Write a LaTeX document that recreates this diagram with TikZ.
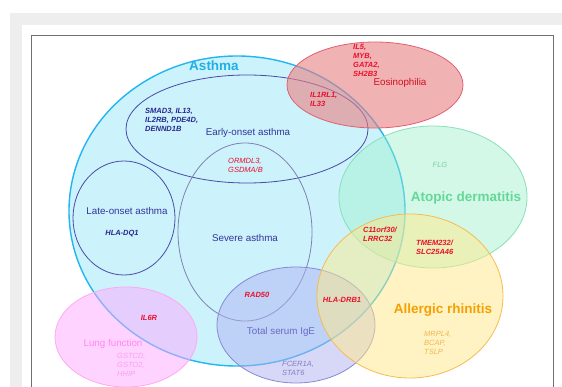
\documentclass[tikz,border=0pt]{standalone}
\usepackage{fontspec}
\setmainfont{Liberation Sans}
\usetikzlibrary{shapes.geometric}

\definecolor{FrameGrey}{rgb}{0.933,0.933,0.933}
\definecolor{FrameLine}{rgb}{0.439,0.439,0.439}
\definecolor{AsthmaColor}{rgb}{0.800,0.949,0.988}
\definecolor{AsthmaLine}{rgb}{0.125,0.714,0.941}
\definecolor{OnsetLine}{rgb}{0.290,0.290,0.659}
\definecolor{SevereLine}{rgb}{0.502,0.502,0.690}
\definecolor{EosinColor}{rgb}{0.914,0.498,0.510}
\definecolor{EosinLine}{rgb}{0.878,0.376,0.439}
\definecolor{AtopicColor}{rgb}{0.627,0.941,0.800}
\definecolor{AtopicLine}{rgb}{0.533,0.878,0.722}
\definecolor{RhinitisColor}{rgb}{1.0,0.914,0.537}
\definecolor{RhinitisLine}{rgb}{0.965,0.737,0.314}
\definecolor{IgEColor}{rgb}{0.694,0.694,0.945}
\definecolor{IgELine}{rgb}{0.533,0.533,0.847}
\definecolor{LungColor}{rgb}{1.0,0.663,1.0}
\definecolor{LungLine}{rgb}{1.0,0.659,0.941}

\definecolor{GeneRed}{rgb}{0.918,0.063,0.165}
\definecolor{GeneBlue}{rgb}{0.157,0.157,0.565}
\definecolor{OnsetText}{rgb}{0.204,0.204,0.604}
\definecolor{AsthmaText}{rgb}{0.125,0.690,0.910}
\definecolor{EosinText}{rgb}{0.816,0.063,0.125}
\definecolor{AtopicText}{rgb}{0.392,0.847,0.596}
\definecolor{AtopicGene}{rgb}{0.471,0.816,0.627}
\definecolor{RhinitisText}{rgb}{0.961,0.627,0.0}
\definecolor{RhinitisGene}{rgb}{0.941,0.722,0.314}
\definecolor{IgEText}{rgb}{0.416,0.416,0.784}
\definecolor{IgEGene}{rgb}{0.502,0.502,0.753}
\definecolor{LungText}{rgb}{1.0,0.533,0.941}
\definecolor{LungGene}{rgb}{0.973,0.627,0.941}

\tikzstyle{set-base}=[ellipse,
                      inner sep=0pt,
                      line width=0.8pt,
                     ]
\tikzstyle{set-fill}=[set-base, fill opacity=0.5]
\tikzstyle{set-line}=[set-base, draw=OnsetLine]
\tikzstyle{gene}=[inner sep=0pt, align=left, anchor=north west,
                  font=\fontsize{7.5}{9.2}\selectfont\bfseries\itshape]
\tikzstyle{gene-plain}=[gene, font=\fontsize{7.5}{9.2}\selectfont\itshape]
\tikzstyle{set-label}=[inner sep=0pt, font=\fontsize{9.8}{11}\selectfont]
\tikzstyle{title-label}=[inner sep=0pt, font=\fontsize{13.5}{15}\selectfont\bfseries]

\begin{document}
\begin{tikzpicture}[x=1pt, y=-1pt]
\useasboundingbox (0,0) rectangle (562,387);
% page frame
\fill[FrameGrey] (10,13) rectangle (562,387);
\fill[white] (22,25) rectangle (562,387);
\draw[FrameLine, line width=0.9pt] (31,387) -- (31,35) -- (553,35) -- (553,387);

% sets
\node at (237,211) (asthma)   [set-base, draw=AsthmaLine, fill=AsthmaColor, line width=1.4pt, minimum width=336pt, minimum height=310pt] {};
\node at (247,129) (early)    [set-line, minimum width=242pt, minimum height=108pt] {};
\node at (124,218) (late)     [set-line, minimum width=102pt, minimum height=114pt] {};
\node at (245,232) (severe)   [set-base, draw=SevereLine, minimum width=134pt, minimum height=178pt] {};
\node at (296,325) (ige)      [set-fill, draw=IgELine, fill=IgEColor, minimum width=158pt, minimum height=116pt] {};
\node at (126,337) (lung)     [set-fill, draw=LungLine, fill=LungColor, minimum width=142pt, minimum height=100pt] {};
\node at (375,85)  (eosin)    [set-fill, draw=EosinLine, fill=EosinColor, fill opacity=0.6, minimum width=176pt, minimum height=86pt] {};
\node at (433,197) (atopic)   [set-fill, draw=AtopicLine, fill=AtopicColor, fill opacity=0.45, minimum width=188pt, minimum height=142pt] {};
\node at (410,296) (rhinitis) [set-fill, draw=RhinitisLine, fill=RhinitisColor, minimum width=186pt, minimum height=164pt] {};

% set names
\node at (214,66)  (asthma_label)   [title-label, text=AsthmaText]   {Asthma};
\node at (400,83)  (eosin_label)    [set-label, text=EosinText]      {Eosinophilia};
\node at (248,133) (early_label)    [set-label, text=OnsetText]      {Early-onset asthma};
\node at (127,211) (late_label)     [set-label, text=OnsetText]      {Late-onset asthma};
\node at (245,238) (severe_label)   [set-label, text=OnsetText]      {Severe asthma};
\node at (466,198) (atopic_label)   [title-label, text=AtopicText]   {Atopic dermatitis};
\node at (443,310) (rhinitis_label) [title-label, text=RhinitisText] {Allergic rhinitis};
\node at (281,332) (ige_label)      [set-label, text=IgEText]        {Total serum IgE};
\node at (113,344) (lung_label)     [set-label, text=LungText]       {Lung function};

% genes
\node at (353,44)  (eosin_genes)    [gene, text=GeneRed]  {IL5,\\MYB,\\GATA2,\\SH2B3};
\node at (310,92)  (il1rl1_genes)   [gene, text=GeneRed]  {IL1RL1,\\IL33};
\node at (145,108) (early_genes)    [gene, text=GeneBlue] {SMAD3, IL13,\\IL2RB, PDE4D,\\DENND1B};
\node at (228,158) (ormdl_genes)    [gene-plain, text=GeneRed] {ORMDL3,\\GSDMA/B};
\node at (122,234) (late_genes)     [gene, anchor=center, text=GeneBlue] {HLA-DQ1};
\node at (440,165) (atopic_genes)   [gene-plain, anchor=center, text=AtopicGene] {FLG};
\node at (363,227) (c11orf30_genes) [gene, text=GeneRed]  {C11orf30/\\LRRC32};
\node at (416,240) (tmem_genes)     [gene, text=GeneRed]  {TMEM232/\\SLC25A46};
\node at (342,300) (hla_drb1_genes) [gene, anchor=center, text=GeneRed] {HLA-DRB1};
\node at (257,295) (rad50_genes)    [gene, anchor=center, text=GeneRed] {RAD50};
\node at (149,318) (il6r_genes)     [gene, anchor=center, text=GeneRed] {IL6R};
\node at (424,331) (rhinitis_genes) [gene-plain, text=RhinitisGene] {MRPL4,\\BCAP,\\TSLP};
\node at (282,361) (ige_genes)      [gene-plain, text=IgEGene]  {FCER1A,\\STAT6};
\node at (117,353) (lung_genes)     [gene-plain, text=LungGene] {GSTCD,\\GSTO2,\\HHIP};
\end{tikzpicture}
\end{document}
